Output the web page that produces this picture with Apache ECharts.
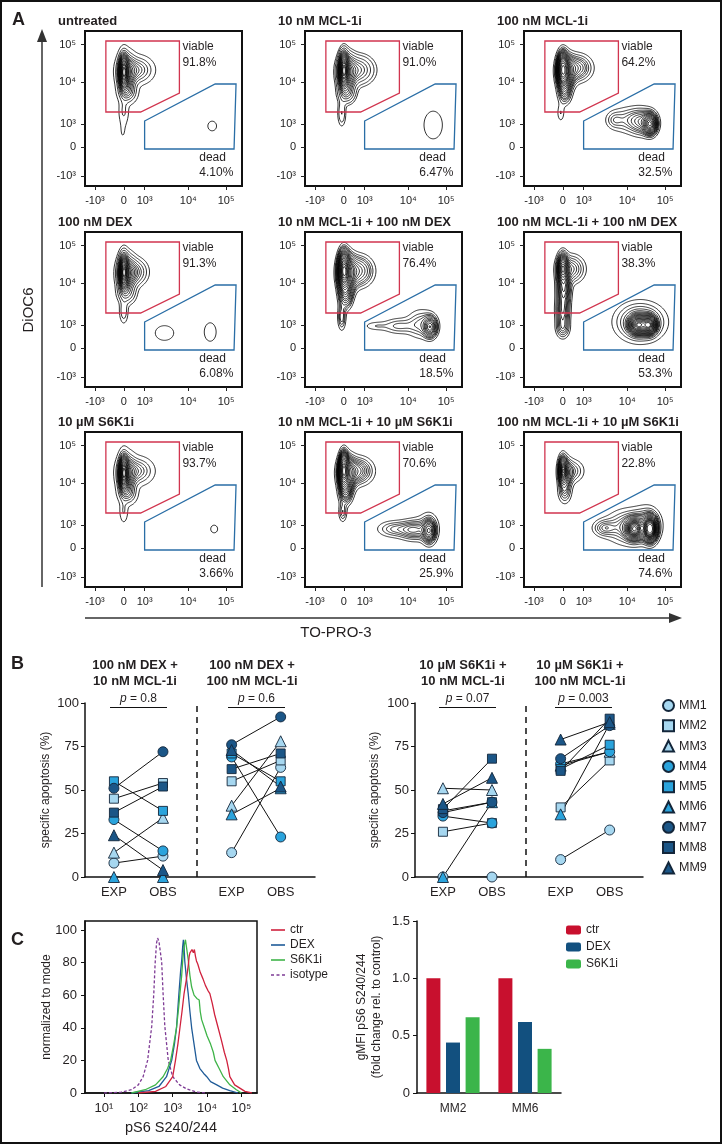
<!DOCTYPE html>
<html><head><meta charset="utf-8">
<script src="https://cdn.jsdelivr.net/npm/echarts@6/dist/echarts.min.js"></script>
<style>html,body{margin:0;padding:0;background:#fff}#c{width:722px;height:1144px}</style>
</head><body><div id="c"></div>
<script>
// ================= DATA =================
// ---- Panel A (flow cytometry contour plots) ----
const facsTitles = ['untreated','10 nM MCL-1i','100 nM MCL-1i','100 nM DEX','10 nM MCL-1i + 100 nM DEX','100 nM MCL-1i + 100 nM DEX','10 µM S6K1i','10 nM MCL-1i + 10 µM S6K1i','100 nM MCL-1i + 10 µM S6K1i'];
const viablePct = ['91.8%','91.0%','64.2%','91.3%','76.4%','38.3%','93.7%','70.6%','22.8%'];
const deadPct = ['4.10%','6.47%','32.5%','6.08%','18.5%','53.3%','3.66%','25.9%','74.6%'];
const facsTickLabels = ['-10³','0','10³','10⁴','10⁵'];
// tick positions on the biexponential display scale
const facsXTickPos = [-29, 0, 21, 65, 103];
const facsYTickPos = [-29, 0, 23, 65, 102.5];
// gates (display-scale units: x = TO-PRO-3, y = DiOC6)
const viableGate = [[-18,106],[56,106],[56,54],[17,35],[-18,35]];
const deadGate = [[21,26],[92,63],[113,63],[111,-2],[21,-2]];
// cell populations: [centre x, centre y, spread x, spread y, fraction]
const popUntreated = [[0,75,2.5,9,0.35],[3,74,5,10,0.30],[13,77,8.5,7,0.18],[4,55,5,6,0.07],[0,36,3,8,0.02],[-1,15,3,8,0.006],[89,21,10,11,0.029]];
const popMcl10 = [[0,77,2.5,9,0.33],[3,74,5,10,0.30],[14,77,9,8,0.20],[3,54,5,6,0.06],[-2,34,2.5,8,0.02],[90,22,8,12,0.05]];
const popMcl100 = [[0,78,3,9,0.22],[3,74,5,10,0.20],[14,79,9,8,0.14],[2,54,4,7,0.04],[-2,34,2.5,6,0.008],[88,23,4,6,0.12],[80,25,8,8,0.10],[66,27,12,8,0.09],[52,27,5,5,0.015]];
const popDex = [[0,76,2.5,9,0.36],[3,74,5,10,0.30],[10,76,7,7,0.17],[3,55,5,6,0.06],[0,37,2.5,7,0.02],[41,15,9.5,7.5,0.03],[87,16,5.5,8.5,0.022]];
const popMcl10Dex = [[0,78,3,10,0.25],[3,74,5,11,0.23],[14,77,9,9,0.16],[2,53,4,8,0.06],[-2,31,2.5,8,0.02],[87,21,4,6,0.07],[78,24,9,9,0.07],[55,22,10,5,0.035],[32,22,8,3,0.01]];
const popMcl100Dex = [[0,80,3,8,0.09],[8,79,8,8,0.08],[1,60,4,10,0.08],[0,37,4,10,0.06],[0,20,4,6,0.02],[76,23,5,5,0.15],[87,23,4,5,0.12],[78,26,14,11,0.22]];
const popS6 = [[0,75,2.5,9,0.36],[3,74,5,10,0.31],[13,77,8.5,7,0.18],[4,55,5,6,0.07],[0,37,2.5,7,0.015],[91,19,10,11,0.031]];
const popMcl10S6 = [[0,78,2.5,9,0.24],[3,74,5,10,0.22],[14,77,9,8,0.15],[2,55,4,7,0.05],[-1,36,2.5,6,0.015],[86,17,4,7,0.09],[70,18,9,6,0.09],[50,19,10,5,0.05],[84,22,8,10,0.04]];
const popMcl100S6 = [[0,78,2.5,8,0.08],[3,74,4,9,0.07],[10,77,7,7,0.05],[2,56,4,7,0.03],[88,19,4,7,0.22],[72,19,5,6,0.16],[68,21,14,10,0.24],[42,20,7,5,0.04],[85,25,8,10,0.08]];
const facsPops = [popUntreated,popMcl10,popMcl100,popDex,popMcl10Dex,popMcl100Dex,popS6,popMcl10S6,popMcl100S6];
// probability contour levels (fraction of cells enclosed)
const contourFractions = [0.05,0.10,0.15,0.20,0.25,0.30,0.35,0.40,0.45,0.50,0.55,0.60,0.65,0.70,0.75,0.80,0.85,0.90,0.95];

// ---- Panel B (specific apoptosis, %) ----
const mmNames = ['MM1','MM2','MM3','MM4','MM5','MM6','MM7','MM8','MM9'];
const bGroupTitles = [['100 nM DEX +','10 nM MCL-1i'],['100 nM DEX +','100 nM MCL-1i'],['10 µM S6K1i +','10 nM MCL-1i'],['10 µM S6K1i +','100 nM MCL-1i']];
const bPValues = ['0.8','0.6','0.07','0.003'];
const bXTickPos = [1, 2, 3.4, 4.4];
const bXTickLabels = ['EXP','OBS','EXP','OBS'];
const expDexMcl10  = [8, 45, 14, 33, 55, 0, 51, 37, 24];
const obsDexMcl10  = [12, 54, 34, 15, 38, 0, 72, 52, 4];
const expDexMcl100 = [14, 55, 41, 69, 71, 36, 76, 62, 73];
const obsDexMcl100 = [63, 67, 78, 23, 55, 51, 92, 71, 52];
const expS6Mcl10   = [0, 26, 51, 35, 38, 0, 37, 39, 42];
const obsS6Mcl10   = [0, 31, 50, 31, 43, 43, 43, 68, 57];
const expS6Mcl100  = [10, 40, 64, 65, 62, 36, 68, 61, 79];
const obsS6Mcl100  = [27, 67, 72, 72, 76, 88, 87, 91, 89];

// ---- Panel C left (histograms: [log10 pS6 S240/244, % of mode]) ----
const histTickLabels = ['10¹','10²','10³','10⁴','10⁵'];
const histTickPos = [1,2,3,4,5];
const histCtr = [[2.0,0],[2.5,1],[2.8,4],[3.0,10],[3.08,20],[3.15,30],[3.21,40],[3.27,50],[3.33,61],[3.4,70],[3.45,78],[3.48,84],[3.5,86],[3.53,85],[3.56,88],[3.6,86],[3.63,88],[3.66,84],[3.69,81],[3.73,79],[3.77,78],[3.8,74],[3.88,70],[3.95,66],[4.02,63],[4.08,61],[4.15,55],[4.22,48],[4.32,40],[4.42,32],[4.5,25],[4.57,20],[4.62,15],[4.66,10],[4.8,5],[4.95,3],[5.1,1],[5.3,0]];
const histDex = [[1.8,0],[2.3,1.5],[2.6,4],[2.82,10],[2.97,20],[3.05,30],[3.11,40],[3.18,61],[3.23,75],[3.26,81],[3.29,90],[3.31,94],[3.33,90],[3.35,81],[3.4,70],[3.45,61],[3.5,50],[3.55,40],[3.62,30],[3.69,20],[3.79,15],[3.9,12],[3.99,10],[4.1,7],[4.28,5],[4.45,3],[4.66,1.5],[4.9,0]];
const histS6 = [[1.8,0],[2.2,2],[2.5,5],[2.72,10],[2.85,15],[2.94,20],[3.03,30],[3.11,40],[3.17,52],[3.21,61],[3.26,72],[3.29,81],[3.33,90],[3.37,94],[3.42,93],[3.45,82],[3.5,72],[3.55,65],[3.62,60],[3.7,58],[3.77,57],[3.8,50],[3.84,45],[3.92,40],[4.0,35],[4.1,30],[4.18,25],[4.23,20],[4.28,20],[4.35,15],[4.47,10],[4.66,5],[4.85,2],[5.0,0]];
const histIso = [[1.0,0],[1.5,0.5],[1.8,2],[2.0,5],[2.14,10],[2.27,20],[2.39,41],[2.45,61],[2.49,80],[2.53,92],[2.56,95],[2.6,93],[2.65,85],[2.68,80],[2.72,61],[2.77,41],[2.87,20],[3.0,10],[3.2,5],[3.4,2.5],[3.7,0.5],[4.0,0]];

// ---- Panel C right (gMFI fold change) ----
const barCategories = ['MM2','MM6'];
const barCtr = [1.0, 1.0];
const barDex = [0.44, 0.62];
const barS6 = [0.66, 0.385];

// ================= LAYOUT / STYLE =================
const FONT = "'Liberation Sans', Arial, Helvetica, sans-serif";
const INK = '#231f20';
const facsLefts = [85, 305, 524], facsTops = [31, 232, 432], facsW = 157, facsH = 155;
const mmSymbols = ['circle','rect','triangle','circle','rect','triangle','circle','rect','triangle'];
const mmSizes = {circle:10, rect:9, triangle:11};
const mmColors = ['#a6d7f0','#a6d7f0','#a6d7f0','#2aa3dc','#2aa3dc','#2aa3dc','#1b5687','#1b5687','#1b5687'];

// ---------- contour computation (marching squares on a density grid) ----------
function contourSegments(pops, xmin, xmax, ymin, ymax, fracs) {
  const nx = xmax - xmin + 1, ny = ymax - ymin + 1;
  const v = new Float64Array(nx * ny);
  for (let j = 0; j < ny; j++) for (let i = 0; i < nx; i++) {
    const x = xmin + i, y = ymin + j; let s = 0;
    for (const p of pops) { const dx = (x - p[0]) / p[2], dy = (y - p[1]) / p[3]; s += p[4] / (p[2] * p[3]) * Math.exp(-0.5 * (dx * dx + dy * dy)); }
    v[j * nx + i] = s;
  }
  const sorted = Array.from(v).sort((a, b) => b - a);
  const total = sorted.reduce((a, b) => a + b, 0);
  const thr = []; let cum = 0, k = 0;
  for (const f of fracs) { while (k < sorted.length && cum < f * total) { cum += sorted[k]; k++; } thr.push(sorted[Math.max(0, k - 1)]); }
  const segs = [];
  for (const t of thr) {
    for (let j = 0; j < ny - 1; j++) for (let i = 0; i < nx - 1; i++) {
      const a = v[j*nx+i], b = v[j*nx+i+1], c = v[(j+1)*nx+i+1], d = v[(j+1)*nx+i];
      const idx = (a>=t?1:0)|(b>=t?2:0)|(c>=t?4:0)|(d>=t?8:0);
      if (idx === 0 || idx === 15) continue;
      const x0 = xmin + i, y0 = ymin + j;
      const B = () => [x0 + (t-a)/(b-a), y0];
      const R = () => [x0 + 1, y0 + (t-b)/(c-b)];
      const T = () => [x0 + (t-d)/(c-d), y0 + 1];
      const L = () => [x0, y0 + (t-a)/(d-a)];
      const add = (p, q) => segs.push(p[0], p[1], q[0], q[1]);
      switch (idx) {
        case 1: case 14: add(L(), B()); break;
        case 2: case 13: add(B(), R()); break;
        case 3: case 12: add(L(), R()); break;
        case 4: case 11: add(R(), T()); break;
        case 5: add(L(), B()); add(R(), T()); break;
        case 6: case 9: add(B(), T()); break;
        case 7: case 8: add(L(), T()); break;
        case 10: add(B(), R()); add(L(), T()); break;
      }
    }
  }
  return segs;
}
const facsSegs = facsPops.map(p => contourSegments(p, -39, 119, -39, 116, contourFractions));
function lookup(pos, labels, v) { let bi = 0, bd = 1e9; pos.forEach((p, i) => { const d = Math.abs(p - v); if (d < bd) { bd = d; bi = i; } }); return labels[bi]; }

// ================= OPTION =================
const grid = [], xAxis = [], yAxis = [], series = [], graphic = [];
const txt = (x, y, text, o) => Object.assign({type:'text', x, y, silent:true, style:Object.assign({text, fill:INK, fontFamily:FONT, fontSize:12, align:'left', verticalAlign:'middle'}, o || {})});
const frameLine = {show:true, onZero:false, lineStyle:{color:'#111', width:2}};

// ---- Panel A ----
for (let k = 0; k < 9; k++) {
  const r = Math.floor(k / 3), c = k % 3;
  grid.push({left: facsLefts[c], top: facsTops[r], width: facsW, height: facsH, show: true, borderColor: '#111', borderWidth: 2, backgroundColor: 'transparent'});
  xAxis.push({gridIndex:k, type:'value', min:-39, max:119, position:'bottom', axisLine:frameLine, splitLine:{show:false},
    axisTick:{show:true, customValues: facsXTickPos, length:4, lineStyle:{color:'#222', width:1}},
    axisLabel:{show:true, customValues: facsXTickPos, margin:9, fontSize:11, color:'#222', fontFamily:FONT, formatter: v => lookup(facsXTickPos, facsTickLabels, v)}});
  yAxis.push({gridIndex:k, type:'value', min:-39, max:116, position:'left', axisLine:frameLine, splitLine:{show:false},
    axisTick:{show:true, customValues: facsYTickPos, length:4, lineStyle:{color:'#222', width:1}},
    axisLabel:{show:true, customValues: facsYTickPos, margin:9, fontSize:11, color:'#222', fontFamily:FONT, formatter: v => lookup(facsYTickPos, facsTickLabels, v)}});
  series.push({type:'custom', xAxisIndex:k, yAxisIndex:k, silent:true, data:[[0,0]], encode:{x:0,y:1},
    renderItem: function (params, api) {
      const segs = facsSegs[k]; let d = '';
      for (let s = 0; s < segs.length; s += 4) {
        const p1 = api.coord([segs[s], segs[s+1]]), p2 = api.coord([segs[s+2], segs[s+3]]);
        d += 'M' + p1[0].toFixed(2) + ' ' + p1[1].toFixed(2) + 'L' + p2[0].toFixed(2) + ' ' + p2[1].toFixed(2);
      }
      const vt = api.coord([59, 100]), vp = api.coord([59, 84]), dt = api.coord([76, -11]), dp = api.coord([76, -26]);
      return {type:'group', children:[
        {type:'path', shape:{pathData:d}, style:{fill:'none', stroke:'#000', lineWidth:0.8}},
        {type:'polygon', shape:{points: viableGate.map(p => api.coord(p))}, style:{fill:'none', stroke:'#d1354f', lineWidth:1.3}},
        {type:'polygon', shape:{points: deadGate.map(p => api.coord(p))}, style:{fill:'none', stroke:'#2a6ea6', lineWidth:1.3}},
        {type:'text', x:vt[0], y:vt[1], style:{text:'viable', fontSize:12, fontFamily:FONT, fill:INK, align:'left', verticalAlign:'middle'}},
        {type:'text', x:vp[0], y:vp[1], style:{text:viablePct[k], fontSize:12, fontFamily:FONT, fill:INK, align:'left', verticalAlign:'middle'}},
        {type:'text', x:dt[0], y:dt[1], style:{text:'dead', fontSize:12, fontFamily:FONT, fill:INK, align:'left', verticalAlign:'middle'}},
        {type:'text', x:dp[0], y:dp[1], style:{text:deadPct[k], fontSize:12, fontFamily:FONT, fill:INK, align:'left', verticalAlign:'middle'}}
      ]};
    }});
  graphic.push(txt(facsLefts[c] - 27, facsTops[r] - 10, facsTitles[k], {fontWeight:'bold', fontSize:13}));
}
// axis arrows and names of panel A
graphic.push({type:'line', silent:true, shape:{x1:42, y1:38, x2:42, y2:587}, style:{stroke:'#333', lineWidth:1.5}});
graphic.push({type:'polygon', silent:true, shape:{points:[[42,29],[37,42],[47,42]]}, style:{fill:'#333'}});
graphic.push({type:'line', silent:true, shape:{x1:85, y1:618, x2:672, y2:618}, style:{stroke:'#333', lineWidth:1.5}});
graphic.push({type:'polygon', silent:true, shape:{points:[[682,618],[669,613],[669,623]]}, style:{fill:'#333'}});
graphic.push(txt(29, 310, 'DiOC6', {fontSize:15, align:'center'}));
graphic[graphic.length-1].rotation = Math.PI / 2;
graphic.push(txt(336, 633, 'TO-PRO-3', {fontSize:15, align:'center'}));
graphic.push(txt(12, 20, 'A', {fontSize:18, fontWeight:'bold'}));
graphic.push(txt(11, 664, 'B', {fontSize:18, fontWeight:'bold'}));
graphic.push(txt(11, 940, 'C', {fontSize:18, fontWeight:'bold'}));

// ---- Panel B ----
const bGrids = [{left:85, right:722-315}, {left:415, right:722-643}];
const bRanges = [[0.41, 5.1], [0.43, 5.08]];
const bData = [[expDexMcl10, obsDexMcl10, expDexMcl100, obsDexMcl100], [expS6Mcl10, obsS6Mcl10, expS6Mcl100, obsS6Mcl100]];
bGrids.forEach((g, bi) => {
  const gi = grid.length;
  grid.push({left:g.left, right:g.right, top:703, bottom:1144-877});
  xAxis.push({gridIndex:gi, type:'value', min:bRanges[bi][0], max:bRanges[bi][1], splitLine:{show:false},
    axisLine:{show:true, onZero:false, lineStyle:{color:'#111', width:1.5}}, axisTick:{show:false},
    axisLabel:{customValues:bXTickPos, margin:9, fontSize:13, color:INK, fontFamily:FONT, formatter: v => lookup(bXTickPos, bXTickLabels, v)}});
  yAxis.push({gridIndex:gi, type:'value', min:0, max:100, interval:25, splitLine:{show:false},
    axisLine:{show:true, onZero:false, lineStyle:{color:'#111', width:1.5}}, axisTick:{show:true, length:4, lineStyle:{color:'#111'}},
    axisLabel:{margin:6, fontSize:13, color:INK, fontFamily:FONT}});
  const d = bData[bi];
  for (let m = 0; m < 9; m++) {
    [[0,1],[2,3]].forEach(([e, o], gg) => {
      series.push({type:'line', name:'link', xAxisIndex:gi, yAxisIndex:gi, silent:true, symbol:'none', z:2,
        lineStyle:{color:'#111', width:1}, data:[[bXTickPos[e], d[e][m]], [bXTickPos[o], d[o][m]]],
        markLine: (m === 0 && gg === 0) ? {silent:true, symbol:'none', label:{show:false}, lineStyle:{color:'#111', type:[6,5], width:1.5},
          data:[[{coord:[2.69, 0]}, {coord:[2.69, 100]}]]} : undefined});
    });
    series.push({type:'scatter', name:mmNames[m], xAxisIndex:gi, yAxisIndex:gi, silent:true, z:3,
      symbol:mmSymbols[m], symbolSize:mmSizes[mmSymbols[m]],
      itemStyle:{color:mmColors[m], borderColor:'#13263a', borderWidth:0.9, opacity:1},
      data: bXTickPos.map((x, i) => [x, d[i][m]])});
  }
});
// B titles and p-values
const bTitleX = [135, 252, 463, 580];
const bGroupCenters = [138.5, 256.5, 467.5, 583.5];
for (let g = 0; g < 4; g++) {
  graphic.push(txt(bTitleX[g], 665, bGroupTitles[g][0], {fontWeight:'bold', fontSize:13, align:'center'}));
  graphic.push(txt(bTitleX[g], 681, bGroupTitles[g][1], {fontWeight:'bold', fontSize:13, align:'center'}));
  graphic.push({type:'text', x:bGroupCenters[g], y:699, silent:true, style:{
    text:'{i|p} = ' + bPValues[g], align:'center', verticalAlign:'middle', fontSize:12, fontFamily:FONT, fill:INK,
    rich:{i:{fontStyle:'italic', fontSize:12, fontFamily:FONT, fill:INK}}}});
  graphic.push({type:'line', silent:true, shape:{x1:bGroupCenters[g]-28.5, y1:707.5, x2:bGroupCenters[g]+28.5, y2:707.5}, style:{stroke:'#111', lineWidth:1}});
}
const yl1 = txt(46, 790, 'specific apoptosis (%)', {fontSize:12, align:'center'}); yl1.rotation = Math.PI/2; graphic.push(yl1);
const yl2 = txt(375, 790, 'specific apoptosis (%)', {fontSize:12, align:'center'}); yl2.rotation = Math.PI/2; graphic.push(yl2);

// ---- Panel C left: histograms ----
{
  const gi = grid.length;
  grid.push({left:85, top:921, width:172, height:172, show:true, borderColor:'#111', borderWidth:1.5, backgroundColor:'transparent'});
  const hLine = {show:true, onZero:false, lineStyle:{color:'#111', width:1.5}};
  xAxis.push({gridIndex:gi, type:'value', min:0.45, max:5.45, position:'bottom', splitLine:{show:false}, axisLine:hLine,
    axisTick:{show:true, customValues:histTickPos, length:4, lineStyle:{color:'#111'}},
    axisLabel:{customValues:histTickPos, margin:9, fontSize:13, color:INK, fontFamily:FONT, formatter: v => lookup(histTickPos, histTickLabels, v)}});
  const yt = [0,20,40,60,80,100];
  yAxis.push({gridIndex:gi, type:'value', min:0, max:105.5, position:'left', splitLine:{show:false}, axisLine:hLine,
    axisTick:{show:true, customValues:yt, length:4, lineStyle:{color:'#111'}},
    axisLabel:{customValues:yt, margin:8, fontSize:13, color:INK, fontFamily:FONT}});
  const hs = [['isotype', histIso, '#7e3b95', [3,2]], ['DEX', histDex, '#1f5b98', 'solid'], ['S6K1i', histS6, '#3fb449', 'solid'], ['ctr', histCtr, '#d0213d', 'solid']];
  hs.forEach(h => series.push({type:'line', name:h[0], xAxisIndex:gi, yAxisIndex:gi, silent:true, symbol:'none', showSymbol:false,
    lineStyle:{color:h[2], width:1.3, type:h[3]}, itemStyle:{color:h[2]}, data:h[1], z:3}));
  const yl = txt(47, 1007, 'normalized to mode', {fontSize:12, align:'center'}); yl.rotation = Math.PI/2; graphic.push(yl);
  graphic.push(txt(171, 1128, 'pS6 S240/244', {fontSize:14.5, align:'center'}));
}
// ---- Panel C right: bars ----
{
  const gi = grid.length;
  grid.push({left:417, top:921, right:722-561, bottom:1144-1093});
  xAxis.push({gridIndex:gi, type:'category', data:barCategories, axisLine:{onZero:false, lineStyle:{color:'#111', width:1.5}},
    axisTick:{alignWithLabel:true, length:4, lineStyle:{color:'#111', width:1.2}}, axisLabel:{margin:10, fontSize:12, color:INK, fontFamily:FONT}});
  yAxis.push({gridIndex:gi, type:'value', min:0, max:1.5, interval:0.5, splitLine:{show:false},
    axisLine:{show:true, onZero:false, lineStyle:{color:'#111', width:1.5}}, axisTick:{show:true, length:4, lineStyle:{color:'#111'}},
    axisLabel:{margin:7, fontSize:13, color:INK, fontFamily:FONT, formatter: v => v === 0 ? '0' : v.toFixed(1)}});
  [['ctr_b', barCtr, '#c8102e'], ['DEX_b', barDex, '#12507f'], ['S6K1i_b', barS6, '#3bb54a']].forEach(b =>
    series.push({type:'bar', name:b[0], xAxisIndex:gi, yAxisIndex:gi, silent:true, barWidth:14, barGap:'40%', data:b[1], itemStyle:{color:b[2]}}));
  const a = txt(362, 1007, 'gMFI pS6 S240/244', {fontSize:12, align:'center'}); a.rotation = Math.PI/2; graphic.push(a);
  const b2 = txt(377, 1007, '(fold change rel. to control)', {fontSize:12, align:'center'}); b2.rotation = Math.PI/2; graphic.push(b2);
}
// outer frame
graphic.push({type:'rect', silent:true, shape:{x:1, y:1, width:720, height:1142}, style:{fill:'none', stroke:'#111', lineWidth:2}});

const solidIcon = 'path://M0,0h14v1.6h-14z';
const dashIcon = 'path://M0,0h3v1.6h-3zM5.5,0h3v1.6h-3zM11,0h3v1.6h-3z';
const option = {
  animation:false, backgroundColor:'#fff',
  textStyle:{fontFamily:FONT},
  grid, xAxis, yAxis, series, graphic,
  legend:[
    {data:mmNames, orient:'vertical', left:657, top:694, itemWidth:11, itemHeight:11, itemGap:7.3, selectedMode:false,
      textStyle:{fontSize:12.5, color:INK, fontFamily:FONT}},
    {data:[{name:'ctr', icon:solidIcon},{name:'DEX', icon:solidIcon},{name:'S6K1i', icon:solidIcon},{name:'isotype', icon:dashIcon}],
      orient:'vertical', left:266, top:919, itemWidth:14, itemHeight:1.6, itemGap:3, selectedMode:false,
      textStyle:{fontSize:12, color:INK, fontFamily:FONT}},
    {data:['ctr_b','DEX_b','S6K1i_b'], orient:'vertical', left:561, top:919, itemWidth:15, itemHeight:9, itemGap:5, selectedMode:false,
      formatter: n => n.replace('_b',''), textStyle:{fontSize:12, color:INK, fontFamily:FONT}}
  ]
};
const chart = echarts.init(document.getElementById('c'), null, {width:722, height:1144});
chart.setOption(option);
</script></body></html>
